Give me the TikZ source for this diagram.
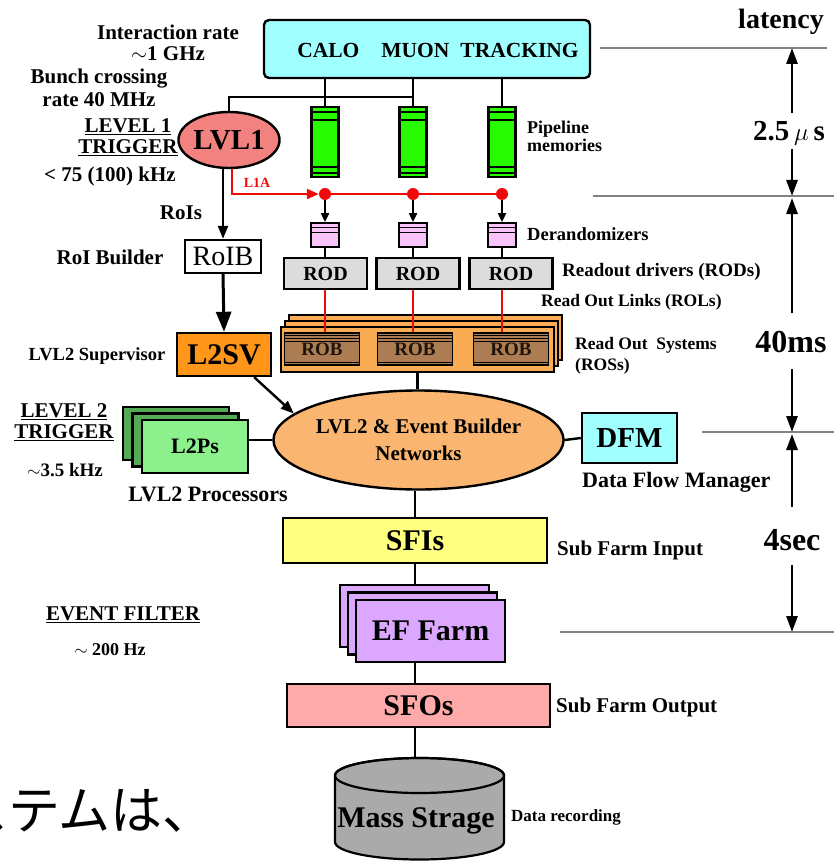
\documentclass[tikz,border=0pt]{standalone}
\usepackage{fontspec}
\setmainfont{Liberation Serif}
\newfontfamily\jpfont{Noto Sans CJK JP}
\usetikzlibrary{arrows.meta,shapes.geometric,shadows}

\definecolor{detcyan}{RGB}{160,255,255}
\definecolor{pipegreen}{RGB}{40,250,0}
\definecolor{lvlred}{RGB}{242,130,128}
\definecolor{l1ared}{RGB}{240,10,10}
\definecolor{derpink}{RGB}{248,195,248}
\definecolor{rodgray}{RGB}{220,220,220}
\definecolor{rosorange}{RGB}{250,172,85}
\definecolor{robbrown}{RGB}{172,124,82}
\definecolor{l2orange}{RGB}{255,150,25}
\definecolor{netorange}{RGB}{250,182,112}
\definecolor{l2green}{RGB}{140,240,140}
\definecolor{l2dark}{RGB}{85,170,85}
\definecolor{sfiyellow}{RGB}{255,255,128}
\definecolor{eflav}{RGB}{220,168,255}
\definecolor{sfopink}{RGB}{255,170,170}
\definecolor{msgray}{RGB}{170,170,170}
\definecolor{latgray}{RGB}{130,130,130}

\newcommand{\fsz}[1]{\fontsize{#1}{#1}\selectfont}

\begin{document}
\begin{tikzpicture}[x=1pt, y=-1pt, >=Triangle,
  box/.style={draw, line width=2.4pt, inner sep=0pt, font=\bfseries},
  conn/.style={line width=2.4pt},
  arr/.style={conn, -{Triangle[length=13pt,width=10pt]}},
  smallarr/.style={line width=2pt, -{Triangle[length=9pt,width=8pt]}},
  bigarr/.style={line width=3pt, -{Triangle[length=20pt,width=15pt]}},
  rol/.style={l1ared, line width=2pt},
  rdot/.style={circle, fill=l1ared, minimum size=12pt, inner sep=0pt},
  lbl/.style={inner sep=0pt, font=\bfseries\fsz{21}},
  latline/.style={draw=latgray, line width=1.3pt},
  latarr/.style={line width=2.8pt, -{Triangle[length=16pt,width=11pt]}}]

  \fill[white] (0,0) rectangle (834,861);
  \useasboundingbox (0,0) rectangle (834,861);

  % latency scale on the right
  \node[lbl, font=\bfseries\fsz{28}] (lat) at (781,22) {latency};
  \coordinate (t0) at (792,48);
  \coordinate (t1) at (792,196);
  \coordinate (t2) at (792,432);
  \coordinate (t3) at (792,632);
  \draw[latline] (600,48) -- (827,48);
  \draw[latline] (593,196) -- (834,196);
  \draw[latline] (702,432) -- (834,432);
  \draw[latline] (560,632) -- (834,632);
  \node[lbl, font=\bfseries\fsz{29}] (lat1) at (789,133) {2.5\,$\mu$\,s};
  \node[lbl, font=\bfseries\fsz{32}] (lat2) at (791,342) {40ms};
  \node[lbl, font=\bfseries\fsz{32}] (lat3) at (792,540) {4sec};
  \draw[latarr, shorten <=8pt] (lat1.north -| t0) -- (t0);
  \draw[latarr, shorten <=4pt] (lat1.south -| t0) -- (t1);
  \draw[latarr, shorten <=18pt] (lat2.north -| t1) -- ([yshift=-2pt]t1);
  \draw[latarr, shorten <=16pt] (lat2.south -| t2) -- (t2);
  \draw[latarr, shorten <=22pt] (lat3.north -| t2) -- ([yshift=-2pt]t2);
  \draw[latarr, shorten <=14pt] (lat3.south -| t3) -- (t3);

  % detectors and front end
  \node[box, fill=detcyan, rounded corners=5pt, minimum width=326pt, minimum height=58pt] (det) at (427,49) {};
  \node[lbl, font=\bfseries\fsz{21.5}] (dettxt) at (438,50) {CALO\hspace{22pt}MUON\hspace{11pt}TRACKING};

  \node[box, ellipse, fill=lvlred, minimum width=95pt, minimum height=56pt, font=\bfseries\fsz{29}] (lvl1) at (229,140) {LVL1};
  \coordinate (bus) at (413,97);

  \foreach \x [count=\i] in {325,413,502} {
    \node[box, fill=pipegreen, minimum width=27pt, minimum height=70pt] (pipe\i) at (\x,142) {};
    \foreach \s in {-6,-14} \draw[line width=1.5pt] ([yshift=\s pt]pipe\i.north west) -- ([yshift=\s pt]pipe\i.north east);
    \foreach \s in {5,11} \draw[line width=1.5pt] ([yshift=\s pt]pipe\i.south west) -- ([yshift=\s pt]pipe\i.south east);
    \draw[conn] (pipe\i.north) -- (pipe\i.north |- det.south);
    \node[rdot] (dot\i) at (\x,194) {};
    \node[box, line width=1.8pt, fill=derpink, minimum width=28pt, minimum height=24pt] (der\i) at (\x,235) {};
    \foreach \s in {-5,-10} \draw[line width=1.2pt] ([yshift=\s pt]der\i.north west) -- ([yshift=\s pt]der\i.north east);
    \draw[smallarr] (dot\i) -- (der\i.north);
  }
  \draw[conn] (lvl1.north) |- (bus);

  % level 1 accept
  \draw[l1ared, line width=2pt, -{Triangle[length=12pt,width=10pt]}] ([xshift=3pt]lvl1.south) |- (dot1.west);
  \draw[l1ared, line width=2.4pt] (dot1) -- (dot2) -- (dot3);
  \node[lbl, text=l1ared, font=\bfseries\fsz{14}] (l1albl) at (257,183) {L1A};

  % readout
  \foreach \x [count=\i] in {325.5,418,511} {
    \node[box, fill=rodgray, minimum width=83pt, minimum height=31pt, font=\bfseries\fsz{20}] (rod\i) at (\x,273.5) {ROD};
    \draw[conn] (der\i.south) -- (der\i.south |- rod\i.north);
  }
  \node[box, fill=rosorange, minimum width=273pt, minimum height=45pt,
    copy shadow={shadow xshift=8pt, shadow yshift=12pt, fill=rosorange, draw=black, line width=2.2pt},
    copy shadow={shadow xshift=4pt, shadow yshift=6pt, fill=rosorange, draw=black, line width=2.2pt}] (ros) at (417.5,349.5) {};
  \foreach \x [count=\i] in {322,415,511} {
    \node[box, line width=1.6pt, fill=robbrown, minimum width=75pt, minimum height=32pt, text={black!85!brown}, font=\bfseries\fsz{19}] (rob\i) at (\x,349) {ROB};
    \foreach \s in {-3,-6,-9} \draw[line width=0.7pt] ([yshift=\s pt]rob\i.north west) -- ([yshift=\s pt]rob\i.north east);
    \draw[line width=0.7pt] ([yshift=3pt]rob\i.south west) -- ([yshift=3pt]rob\i.south east);
    \draw[rol] (der\i |- rod\i.south) -- (der\i |- rob\i.north);
  }

  % level 2
  \node[box, fill=white, minimum width=76pt, minimum height=33pt, font=\fsz{28}] (roib) at (223,256.5) {RoIB};
  \node[box, fill=l2orange, minimum width=94pt, minimum height=43pt, font=\bfseries\fsz{30}] (l2sv) at (224,354.5) {L2SV};
  \node[box, ellipse, fill=netorange, minimum width=271pt, minimum height=99pt, align=center, font=\bfseries\fsz{21}] (net) at (418.5,440) {LVL2 \& Event Builder\\[6pt]Networks};
  \node[box, fill=l2green, minimum width=106pt, minimum height=53pt, font=\bfseries\fsz{22},
    copy shadow={shadow xshift=-19pt, shadow yshift=13pt, fill=l2dark, draw=black, line width=2.2pt},
    copy shadow={shadow xshift=-9.5pt, shadow yshift=6.5pt, fill=l2dark, draw=black, line width=2.2pt}] (l2ps) at (195,446.5) {L2Ps};
  \node[box, fill=detcyan, minimum width=95pt, minimum height=50pt, font=\bfseries\fsz{29}] (dfm) at (629.5,438) {DFM};

  \draw[arr] (roib.north |- lvl1.south) -- (roib.north);
  \draw[bigarr] (roib.south) -- (l2sv.north);
  \draw[arr] ([xshift=-18pt]l2sv.south east) -- (net.168);
  \draw[conn] (ros.south) -- (ros.south |- net.north);
  \draw[conn] (net.west) -- (net.west -| l2ps.east);
  \draw[conn] (net.east) -- (dfm.west);

  % event filter and storage
  \node[box, fill=sfiyellow, minimum width=264pt, minimum height=45pt, font=\bfseries\fsz{30}] (sfi) at (415,540.5) {SFIs};
  \node[box, fill=eflav, minimum width=149pt, minimum height=62pt, font=\bfseries\fsz{30},
    copy shadow={shadow xshift=-16pt, shadow yshift=15pt, fill=eflav, draw=black, line width=2.2pt},
    copy shadow={shadow xshift=-8pt, shadow yshift=7.5pt, fill=eflav, draw=black, line width=2.2pt}] (ef) at (430.5,631) {EF Farm};
  \node[box, fill=sfopink, minimum width=263pt, minimum height=43pt, font=\bfseries\fsz{30}] (sfo) at (418.5,705.5) {SFOs};
  \draw[conn] (net.south -| sfi) -- (sfi.north);
  \draw[conn] (sfi.south) -- ([yshift=15pt]sfi.south |- ef.north);
  \draw[conn] (sfi.south |- ef.south) -- (sfi.south |- sfo.north);

  \draw[line width=2.2pt, fill=msgray] (335,775.5) -- (335,842)
    arc[start angle=180, end angle=360, x radius=84.5pt, y radius=17.5pt] -- (504,775.5)
    arc[start angle=0, end angle=180, x radius=84.5pt, y radius=17.5pt] -- cycle;
  \draw[line width=2.2pt] (419.5,775.5) ellipse [x radius=84.5pt, y radius=17.5pt];
  \coordinate (mstop) at (419.5,758);
  \node[lbl, font=\bfseries\fsz{30}] (ms) at (416,821) {Mass Strage};
  \draw[conn] (sfo.south -| sfi.south) -- (mstop -| sfi.south);

  % labels on the left
  \node[lbl, align=center] (intrate) at (168,43) {Interaction rate\\$\sim$1 GHz};
  \node[lbl, align=center] (bunch) at (99,88) {Bunch crossing\\[2pt]rate 40 MHz};
  \node[lbl, align=center] (lvl1lbl) at (128,137.5) {\underline{LEVEL 1}\\\underline{TRIGGER}};
  \node[lbl] (lvl1rate) at (110,176) {< 75 (100) kHz};
  \node[lbl] (rois) at (181,213) {RoIs};
  \node[lbl] (roiblbl) at (110,257) {RoI Builder};
  \node[lbl, font=\bfseries\fsz{18.5}] (l2svlbl) at (97,356) {LVL2 Supervisor};
  \node[lbl, align=center] (lvl2lbl) at (64,422.5) {\underline{LEVEL 2}\\\underline{TRIGGER}};
  \node[lbl, font=\bfseries\fsz{19}] (lvl2rate) at (65,470) {$\sim$3.5 kHz};
  \node[lbl, font=\bfseries\fsz{22}] (l2pslbl) at (208,494) {LVL2 Processors};
  \node[lbl] (eflbl) at (123,615) {\underline{EVENT FILTER}};
  \node[lbl, font=\bfseries\fsz{18}] (efrate) at (110,650) {$\sim$ 200 Hz};

  % labels on the right
  \node[lbl, font=\bfseries\fsz{18}, anchor=west, align=left] (pipelbl) at (527,136) {Pipeline\\memories};
  \node[lbl, font=\bfseries\fsz{18.5}, anchor=west] (derlbl) at (527,234) {Derandomizers};
  \node[lbl, font=\bfseries\fsz{19}, anchor=west] (rodlbl) at (562,272) {Readout drivers (RODs)};
  \node[lbl, font=\bfseries\fsz{17.5}, anchor=west] (rollbl) at (541,302) {Read Out Links (ROLs)};
  \node[lbl, font=\bfseries\fsz{17.5}, anchor=west, align=left] (roslbl) at (575,356) {Read Out\ \ Systems\\[4pt](ROSs)};
  \node[lbl, font=\bfseries\fsz{22}, anchor=west] (dfmlbl) at (582,482) {Data Flow Manager};
  \node[lbl, anchor=west] (sfilbl) at (557,550) {Sub Farm Input};
  \node[lbl, anchor=west] (sfolbl) at (556,707) {Sub Farm Output};
  \node[lbl, font=\bfseries\fsz{17}, anchor=west] (mslbl) at (511,817) {Data recording};

  % slide text behind the figure
  \node[anchor=base west, inner sep=0pt, font=\jpfont\fsz{52}] (jptext) at (-44,829) {ステムは、};
\end{tikzpicture}
\end{document}
